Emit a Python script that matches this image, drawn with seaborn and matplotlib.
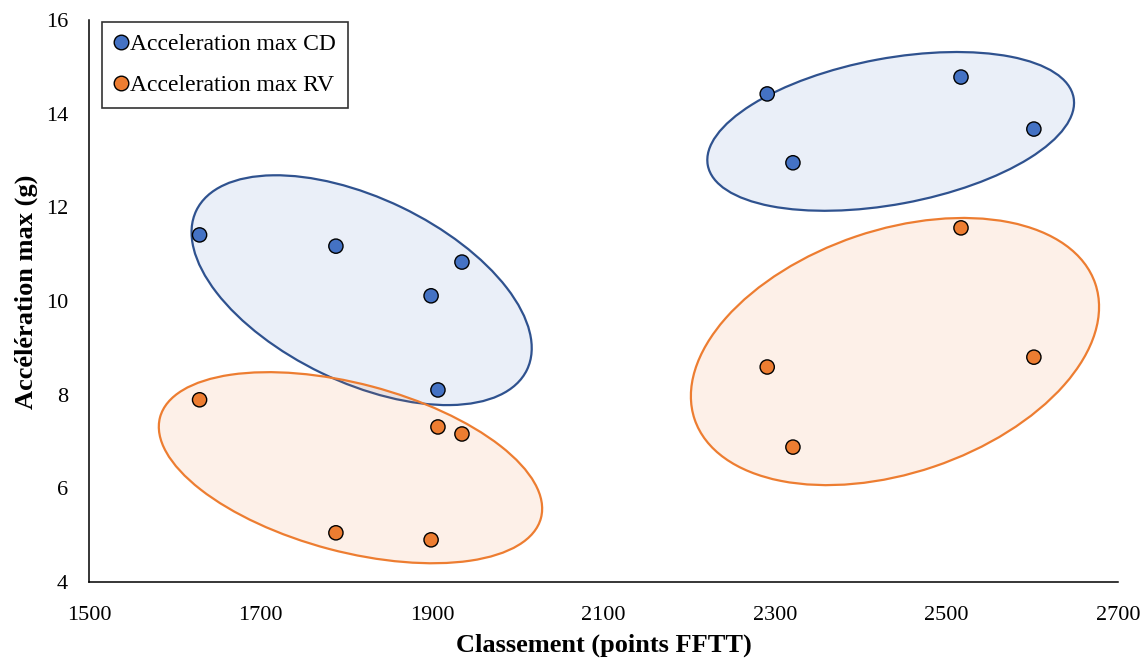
import matplotlib
matplotlib.use("Agg")
import matplotlib.pyplot as plt
import matplotlib.transforms as mtransforms
from matplotlib.patches import Ellipse
from matplotlib.lines import Line2D
import pandas as pd
import seaborn as sns

# --- data ---
classement = [1629, 1788, 1899, 1935, 1907, 2291, 2321, 2517, 2602]
accel_cd = [11.41, 11.17, 10.11, 10.83, 8.10, 14.42, 12.95, 14.78, 13.67]
accel_rv = [7.89, 5.05, 4.90, 7.16, 7.31, 8.59, 6.88, 11.56, 8.80]
series_names = ["Acceleration max CD", "Acceleration max RV"]
x_ticks = [1500, 1700, 1900, 2100, 2300, 2500, 2700]
y_ticks = [4, 6, 8, 10, 12, 14, 16]

blue = "#4472C4"
orange = "#ED7D31"

df = pd.DataFrame({
    "Classement": classement * 2,
    "Acceleration": accel_cd + accel_rv,
    "Serie": [series_names[0]] * len(accel_cd) + [series_names[1]] * len(accel_rv),
})

sns.set_style("white")
plt.rcParams["font.family"] = ["Liberation Serif", "DejaVu Serif"]
plt.rcParams["text.color"] = "black"
plt.rcParams["axes.labelcolor"] = "black"
plt.rcParams["xtick.color"] = "black"
plt.rcParams["ytick.color"] = "black"

fig = plt.figure(figsize=(11.42, 6.64), dpi=100)
ax = fig.add_axes([0.0779, 0.1235, 0.901, 0.8465])

# --- group ellipses (centre in data units, size in pixels, angle in degrees) ---
groups = [
    (1818, 10.23, 367, 184, -25.7, blue, "#2F528F"),
    (1805, 6.44, 394, 168, -14.8, orange, orange),
    (2435, 13.62, 372, 146, 10.5, blue, "#2F528F"),
    (2440, 8.92, 423, 243, 18.7, orange, orange),
]
for cx, cy, w, h, ang, fill, edge in groups:
    tr = fig.dpi_scale_trans + mtransforms.ScaledTranslation(cx, cy, ax.transData)
    fc = matplotlib.colors.to_rgba(fill, 0.11)
    ell = Ellipse((0, 0), w / 100, h / 100, angle=ang, transform=tr,
                  facecolor=fc, edgecolor=edge, linewidth=1.6, zorder=1)
    ax.add_patch(ell)

sns.scatterplot(data=df, x="Classement", y="Acceleration", hue="Serie",
                palette={series_names[0]: blue, series_names[1]: orange},
                s=105, edgecolor="black", linewidth=1.0, legend=False,
                zorder=3, ax=ax)

ax.set_xlim(1500, 2700)
ax.set_ylim(4, 16)
ax.set_xticks(x_ticks)
ax.set_yticks(y_ticks)
ax.tick_params(axis="both", length=0, labelsize=16, colors="black")
ax.tick_params(axis="x", pad=17.5)
ax.tick_params(axis="y", pad=15)
sns.despine(ax=ax)
for side in ["left", "bottom"]:
    ax.spines[side].set_color("black")
    ax.spines[side].set_linewidth(1.1)

ax.set_xlabel("Classement (points FFTT)", fontsize=19, fontweight="bold", labelpad=6)
ax.set_ylabel("Accélération max (g)", fontsize=19, fontweight="bold")
ax.yaxis.set_label_coords(-0.05, 0.516)

handles = [
    Line2D([], [], marker="o", linestyle="", markersize=10.5, markerfacecolor=c,
           markeredgecolor="black", markeredgewidth=1.0)
    for c in [blue, orange]
]
leg = ax.legend(handles, series_names, loc="upper left",
                bbox_to_anchor=(102 / 1142, 1 - 22 / 664),
                bbox_transform=fig.transFigure, fontsize=17, frameon=True,
                fancybox=False, edgecolor="black", handlelength=0.65,
                handletextpad=0.05, labelspacing=0.83, borderpad=0.5,
                borderaxespad=0)
leg.get_frame().set_linewidth(1.2)

plt.savefig("out.png", dpi=100)
